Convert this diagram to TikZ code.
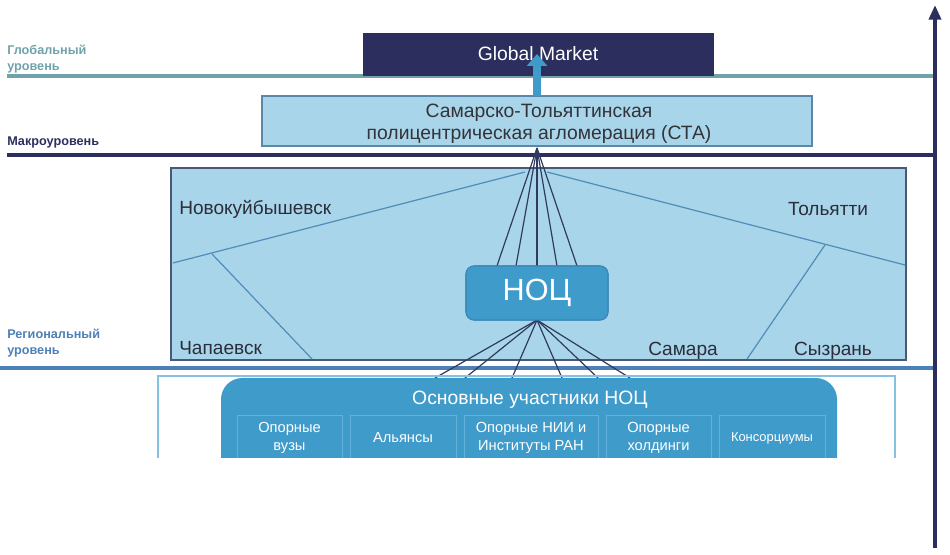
\documentclass[tikz,border=0pt]{standalone}
\usepackage{fontspec}
\setmainfont{Liberation Sans}
\usetikzlibrary{arrows.meta,calc}
\definecolor{navy}{HTML}{2C2F5E}
\definecolor{tealg}{HTML}{6FA2AA}
\definecolor{regblue}{HTML}{4C80B6}
\definecolor{lightfill}{HTML}{A9D5EA}
\definecolor{midblue}{HTML}{3F9BCA}
\definecolor{nocedge}{HTML}{3788B8}
\definecolor{subedge}{HTML}{63B2DC}
\definecolor{fanline}{HTML}{2F3A5E}
\definecolor{cityline}{HTML}{4E8DB8}
\definecolor{regedge}{HTML}{4A5878}
\definecolor{staedge}{HTML}{5A88A8}
\definecolor{citytext}{HTML}{2B2D3A}
\definecolor{statext}{HTML}{333338}
\definecolor{outeredge}{HTML}{86C0E2}
\begin{document}
\begin{tikzpicture}[x=0.75pt,y=-0.75pt,
  pxbox/.style 2 args={minimum width=#1*0.75pt, minimum height=#2*0.75pt, inner sep=0pt, outer sep=0pt},
  levellab/.style={font=\fontsize{9.5}{12}\selectfont\bfseries, anchor=west, align=left, inner sep=0pt},
  city/.style={font=\fontsize{14.3}{16}\selectfont, text=citytext, inner sep=0pt},
  subbox/.style={draw=subedge, line width=0.6pt, fill=midblue, text=white, align=center,
                 font=\fontsize{11}{13.5}\selectfont, inner sep=0pt},
  levelline/.style={line width=2.4pt},
  fan/.style={draw=fanline, line width=0.9pt},
  cityl/.style={draw=cityline, line width=0.9pt}]
\useasboundingbox (0,0) rectangle (950,555);

% level lines
\coordinate (g0) at (7,76);   \coordinate (g1) at (935,76);
\coordinate (m0) at (7,155);  \coordinate (m1) at (935,155);
\coordinate (r0) at (0,368);  \coordinate (r1) at (935,368);
\draw[levelline, tealg] (g0) -- (g1);
\draw[levelline, navy] (m0) -- (m1);
\draw[levelline, regblue] (r0) -- (r1);

% vertical axis
\coordinate (axb) at (935,548); \coordinate (axt) at (935,5);
\draw[navy, line width=2.8pt, -{Triangle[length=11pt,width=9pt]}] (axb) -- (axt);

% level labels
\node[levellab, text=tealg] (lg) at (7,59) {Глобальный\\уровень};
\node[levellab, text=navy] (lm) at (7,142) {Макроуровень};
\node[levellab, text=regblue] (lr) at (7,343) {Региональный\\уровень};

% global market
\node[pxbox={350}{42}, fill=navy, draw=navy, text=white, font=\fontsize{14.5}{17}\selectfont] (gm) at (538,54) {Global Market};

% STA
\node[pxbox={550}{50}, fill=lightfill, draw=staedge, line width=1pt] (sta) at (537,121) {};
\node[align=center, font=\fontsize{14.5}{16.5}\selectfont, text=statext, inner sep=0pt] (statxt) at (539,124) {Самарско-Тольяттинская\\полицентрическая агломерация (СТА)};

% arrow STA -> global market
\draw[midblue, line width=6pt, -{Triangle[length=9pt,width=15pt]}] (sta.north) -- (sta.north |- gm.center);

% region box
\node[pxbox={735}{192}, fill=lightfill, draw=regedge, line width=1.3pt] (reg) at (538.5,264) {};
\coordinate (c1) at (525,172); \coordinate (c2) at (173,263);
\coordinate (c3) at (547,172); \coordinate (c4) at (905,265);
\coordinate (c5) at (212,254); \coordinate (c6) at (312,359);
\coordinate (c7) at (825,245); \coordinate (c8) at (747,359);
\draw[cityl] (c1) -- (c2);
\draw[cityl] (c3) -- (c4);
\draw[cityl] (c5) -- (c6);
\draw[cityl] (c7) -- (c8);

\node[city, anchor=base west] (nk) at (179,215) {Новокуйбышевск};
\node[city, anchor=base] (tl) at (828,216) {Тольятти};
\node[city, anchor=base west] (ch) at (179,355) {Чапаевск};
\node[city, anchor=base] (sm) at (683,356) {Самара};
\node[city, anchor=base] (sz) at (833,356) {Сызрань};

% NOC
\node[pxbox={142}{54}, rounded corners=6pt, fill=midblue, draw=nocedge, line width=0.8pt] (noc) at (537,293) {};
\coordinate (apex) at (537,148);
\foreach \f in {0.218,0.352,0.641,0.782}
  \draw[fan] ($(noc.north west)!\f!(noc.north east)$) -- (apex);
\draw[fan, -{Stealth[length=5pt,width=4pt]}] (noc.north) -- (apex);

% participants
\foreach \x [count=\i] in {435,465,512,562,598,630}
  \coordinate (b\i) at (\x,378);
\foreach \i in {1,...,6}
  \draw[fan] (noc.south) -- (b\i);

% NOC drawn again on top of the fan ends
\node[pxbox={142}{54}, rounded corners=6pt, fill=midblue, draw=nocedge, line width=0.8pt, text=white, font=\fontsize{23}{26}\selectfont] (noctxt) at (537,293) {НОЦ};

\begin{scope}
\clip (0,0) rectangle (950,457.5);
\draw[outeredge, line width=1.4pt] (158,470) -- (158,376) -- (895,376) -- (895,470);
\fill[midblue] (221,470) [rounded corners=16pt] -- (221,378) -- (837,378) [sharp corners] -- (837,470) -- cycle;
\node[text=white, font=\fontsize{14.5}{17}\selectfont, inner sep=0pt] (ptitle) at (530,400) {Основные участники НОЦ};
\node[subbox, pxbox={105}{46}] (s1) at (289.5,438) {Опорные\\вузы};
\node[subbox, pxbox={106}{46}] (s2) at (403,438) {Альянсы};
\node[subbox, pxbox={134}{46}] (s3) at (531,438) {Опорные НИИ и\\Институты РАН};
\node[subbox, pxbox={105}{46}] (s4) at (658.5,438) {Опорные\\холдинги};
\node[subbox, pxbox={106}{46}, font=\fontsize{9.7}{12}\selectfont] (s5) at (772,438) {Консорциумы};
\end{scope}
\end{tikzpicture}
\end{document}
